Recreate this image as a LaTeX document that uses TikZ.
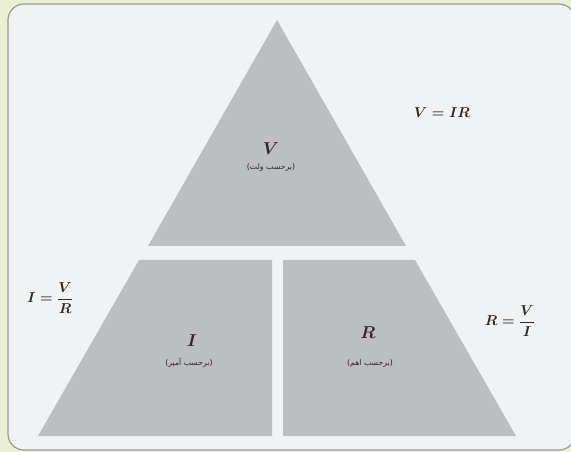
\documentclass[tikz,border=0pt]{standalone}
\usepackage{amsmath}
\usepackage{fontspec}
\newfontfamily\arabicfont[Script=Arabic]{DejaVu Sans}
\TeXXeTstate=1
\definecolor{outerbg}{HTML}{EBF0D3}
\definecolor{innerbg}{HTML}{F1F2F4}
\definecolor{framec}{HTML}{9A9A9A}
\definecolor{piece}{HTML}{BDBEC1}
\definecolor{ink}{HTML}{2A2A2A}
\begin{document}
\begin{tikzpicture}[x=1bp,y=-1bp,
  piecestyle/.style={fill=piece,draw=none},
  sym/.style={font=\fontsize{16}{19}\selectfont\boldmath,text=ink,inner sep=0pt},
  unit/.style={font=\arabicfont\fontsize{7.8}{9}\selectfont,text=ink,inner sep=0pt},
  formula/.style={font=\fontsize{15.5}{19}\selectfont\boldmath,text=ink,inner sep=0pt}]
\useasboundingbox (0,0) rectangle (571,452);
\fill[outerbg] (0,0) rectangle (571,452);
\draw[framec,fill=innerbg,line width=1.2bp,rounded corners=16bp] (8,4) rectangle (575,450);
% pieces
\fill[piecestyle] (277,20) -- (406,246) -- (148,246) -- cycle;
\fill[piecestyle] (139,260) -- (272,260) -- (272,436) -- (38,436) -- cycle;
\fill[piecestyle] (283,260) -- (415,260) -- (516,436) -- (283,436) -- cycle;
% labels
\node[sym] (v) at (271,149) {$V$};
\node[unit] (vu) at (271,167) {\beginR(برحسب ولت)\endR};
\node[sym] (i) at (192,341) {$I$};
\node[unit] (iu) at (189,363) {\beginR(برحسب آمپر)\endR};
\node[sym] (r) at (368,333) {$R$};
\node[unit] (ru) at (370,363) {\beginR(برحسب اهم)\endR};
\node[formula] (f1) at (442,113) {$V = IR$};
\node[formula] (f2) at (50,298) {$I = \dfrac{V}{R}$};
\node[formula] (f3) at (510,321) {$R = \dfrac{V}{I}$};
\end{tikzpicture}
\end{document}
